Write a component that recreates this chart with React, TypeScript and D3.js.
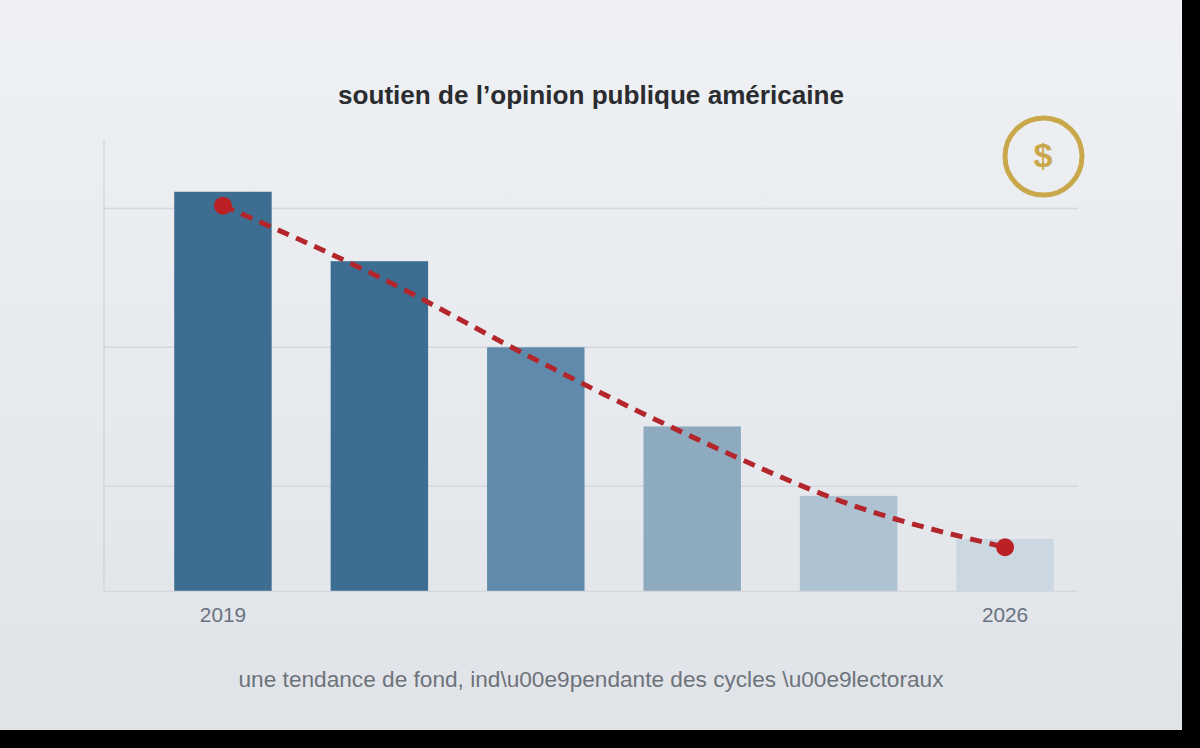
import { useEffect, useRef } from 'react';
import * as d3 from 'd3';

const years = ['2019', '2020', '2021', '2022', '2023', '2026'];
const shownYears = ['2019', '2026'];
const barValues = [41.2, 36.2, 30.0, 24.3, 19.3, 16.2];
const lineValues = [40.2, 35.05, 29.1, 23.55, 18.72, 15.6];
const barColors = ['#3d6d91', '#3d6d91', '#5f8aab', '#8eaabf', '#aec2d2', '#cbd8e2'];
const gridValues = [20, 30, 40];

const title = 'soutien de l’opinion publique américaine';
// the source really shows the escapes as plain text
const subtitle = 'une tendance de fond, ind\\u00e9pendante des cycles \\u00e9lectoraux';

const WIDTH = 1200;
const HEIGHT = 748;

export default function App() {
  const svgRef = useRef<SVGSVGElement>(null);

  useEffect(() => {
    if (!svgRef.current) return;

    const svg = d3.select(svgRef.current);
    svg.selectAll('*').remove();

    const font = 'Liberation Sans, Arial, sans-serif';

    // Page background
    const defs = svg.append('defs');
    const grad = defs
      .append('linearGradient')
      .attr('id', 'bg')
      .attr('x1', 0)
      .attr('y1', 0)
      .attr('x2', 0)
      .attr('y2', 1);
    grad.append('stop').attr('offset', '0%').attr('stop-color', '#eff1f4');
    grad.append('stop').attr('offset', '100%').attr('stop-color', '#e0e3e8');

    svg.append('rect').attr('width', WIDTH).attr('height', HEIGHT).attr('fill', '#000');
    svg.append('rect').attr('width', 1182).attr('height', 730).attr('fill', 'url(#bg)');

    const x = d3.scaleBand<string>().domain(years).range([144.5, 1083.5]).paddingInner(0.377).paddingOuter(0.19);
    const y = d3.scaleLinear().domain([12.45, 45]).range([591, 139]);

    // Grid
    svg
      .append('g')
      .selectAll('line')
      .data(gridValues)
      .join('line')
      .attr('x1', 104)
      .attr('x2', 1078)
      .attr('y1', d => y(d))
      .attr('y2', d => y(d))
      .attr('stroke', '#d3d6db')
      .attr('stroke-width', 1.5);

    // Axes lines
    svg.append('line').attr('x1', 104).attr('x2', 104).attr('y1', 139).attr('y2', 591).attr('stroke', '#d3d6db').attr('stroke-width', 1.5);

    // Bars
    svg
      .append('g')
      .selectAll('rect')
      .data(years)
      .join('rect')
      .attr('x', d => x(d)!)
      .attr('width', x.bandwidth())
      .attr('y', (_d, i) => y(barValues[i]))
      .attr('height', (_d, i) => 591 - y(barValues[i]))
      .attr('fill', (_d, i) => barColors[i]);

    svg.append('line').attr('x1', 104).attr('x2', 1078).attr('y1', 591.5).attr('y2', 591.5).attr('stroke', '#d3d6db').attr('stroke-width', 1.5);

    // Trend line
    const cx = (i: number) => x(years[i])! + x.bandwidth() / 2;
    const line = d3
      .line<number>()
      .x((_d, i) => cx(i))
      .y(d => y(d))
      .curve(d3.curveMonotoneX);

    svg
      .append('path')
      .attr('d', line(lineValues))
      .attr('fill', 'none')
      .attr('stroke', '#b3262c')
      .attr('stroke-width', 5)
      .attr('stroke-dasharray', '12 8');

    svg
      .append('g')
      .selectAll('circle')
      .data([0, lineValues.length - 1])
      .join('circle')
      .attr('cx', d => cx(d))
      .attr('cy', d => y(lineValues[d]))
      .attr('r', 9)
      .attr('fill', '#bb2025');

    // Year labels
    svg
      .append('g')
      .selectAll('text')
      .data(shownYears)
      .join('text')
      .attr('x', d => x(d)! + x.bandwidth() / 2)
      .attr('y', 622)
      .attr('text-anchor', 'middle')
      .attr('font-family', font)
      .attr('font-size', 20.8)
      .attr('fill', '#69727f')
      .text(d => d);

    // Title and subtitle
    svg
      .append('text')
      .attr('x', 591)
      .attr('y', 104)
      .attr('text-anchor', 'middle')
      .attr('font-family', font)
      .attr('font-size', 26.1)
      .attr('font-weight', 'bold')
      .attr('fill', '#2a2c30')
      .text(title);

    svg
      .append('text')
      .attr('x', 591)
      .attr('y', 687)
      .attr('text-anchor', 'middle')
      .attr('font-family', font)
      .attr('font-size', 22.65)
      .attr('fill', '#6e737b')
      .text(subtitle);

    // Dollar badge
    svg
      .append('circle')
      .attr('cx', 1043.5)
      .attr('cy', 156.5)
      .attr('r', 38.5)
      .attr('fill', 'none')
      .attr('stroke', '#c9a84c')
      .attr('stroke-width', 5);

    svg
      .append('text')
      .attr('x', 1043)
      .attr('y', 166.5)
      .attr('text-anchor', 'middle')
      .attr('font-family', font)
      .attr('font-size', 34)
      .attr('font-weight', 'bold')
      .attr('fill', '#c9a84c')
      .text('$');
  }, []);

  return (
    <svg
      ref={svgRef}
      width={WIDTH}
      height={HEIGHT}
      style={{ position: 'fixed', left: 0, top: 0, display: 'block' }}
    />
  );
}
